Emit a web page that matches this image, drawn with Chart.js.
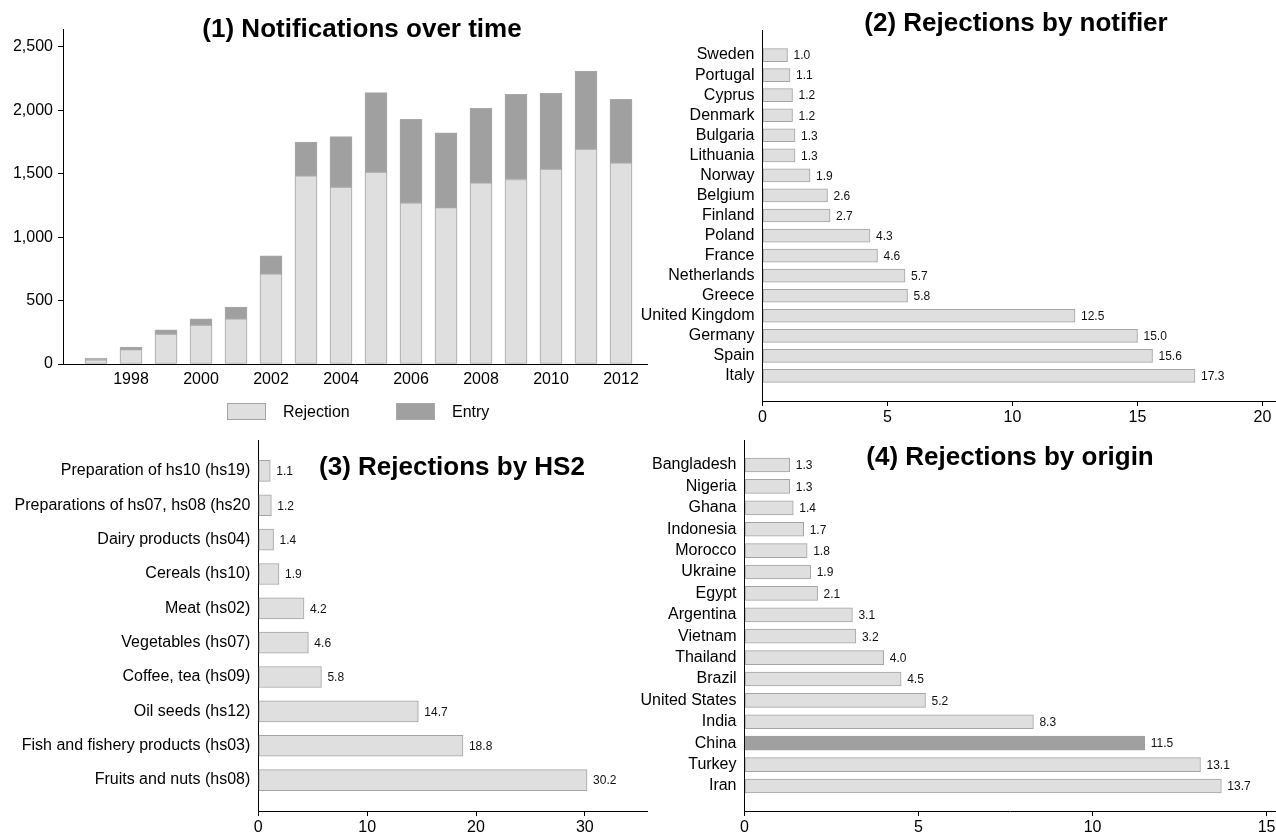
<!DOCTYPE html>
<html>
<head>
<meta charset="utf-8">
<title>Food import notifications</title>
<script src="https://cdn.jsdelivr.net/npm/chart.js@4.4.1/dist/chart.umd.min.js"></script>
<style>
  html, body { margin: 0; padding: 0; background: #fff; }
  #wrap { position: relative; width: 1276px; height: 833px; overflow: hidden; }
  canvas { position: absolute; }
</style>
</head>
<body>
<div id="wrap">
  <canvas id="c1" width="648" height="430" style="left:0;top:0"></canvas>
  <canvas id="c3" width="648" height="403" style="left:0;top:430px"></canvas>
  <canvas id="c2" width="636" height="430" style="left:640px;top:0"></canvas>
  <canvas id="c4" width="636" height="403" style="left:640px;top:430px"></canvas>
</div>
<script>
// (1) yearly notifications, split into rejections and entries
const years = [1997, 1998, 1999, 2000, 2001, 2002, 2003, 2004, 2005, 2006, 2007, 2008, 2009, 2010, 2011, 2012];
const rejections = [32, 113, 236, 307, 356, 710, 1483, 1394, 1512, 1271, 1232, 1428, 1454, 1536, 1693, 1585];
const entries = [15, 21, 34, 49, 92, 142, 265, 398, 626, 658, 589, 587, 671, 597, 616, 501];
const yearTicks = [1998, 2000, 2002, 2004, 2006, 2008, 2010, 2012];
const countTicks = [0, 500, 1000, 1500, 2000, 2500];

// (2) share of rejections by notifying country (%)
const notifierLabels = ['Sweden', 'Portugal', 'Cyprus', 'Denmark', 'Bulgaria', 'Lithuania', 'Norway', 'Belgium',
  'Finland', 'Poland', 'France', 'Netherlands', 'Greece', 'United Kingdom', 'Germany', 'Spain', 'Italy'];
const notifierShares = [1.0, 1.1, 1.2, 1.2, 1.3, 1.3, 1.9, 2.6, 2.7, 4.3, 4.6, 5.7, 5.8, 12.5, 15.0, 15.6, 17.3];

// (3) share of rejections by HS2 chapter (%)
const hsLabels = ['Preparation of hs10 (hs19)', 'Preparations of hs07, hs08 (hs20', 'Dairy products (hs04)',
  'Cereals (hs10)', 'Meat (hs02)', 'Vegetables (hs07)', 'Coffee, tea (hs09)', 'Oil seeds (hs12)',
  'Fish and fishery products (hs03)', 'Fruits and nuts (hs08)'];
const hsShares = [1.1, 1.2, 1.4, 1.9, 4.2, 4.6, 5.8, 14.7, 18.8, 30.2];

// (4) share of rejections by country of origin (%)
const originLabels = ['Bangladesh', 'Nigeria', 'Ghana', 'Indonesia', 'Morocco', 'Ukraine', 'Egypt', 'Argentina',
  'Vietnam', 'Thailand', 'Brazil', 'United States', 'India', 'China', 'Turkey', 'Iran'];
const originShares = [1.3, 1.3, 1.4, 1.7, 1.8, 1.9, 2.1, 3.1, 3.2, 4.0, 4.5, 5.2, 8.3, 11.5, 13.1, 13.7];
const highlightOrigin = 'China';

const FONT = "'Liberation Sans', Arial, Helvetica, sans-serif";
const LIGHT = '#dfdfdf';
const EDGE = '#a4a4a4';
const DARK = '#a0a0a0';

Chart.defaults.font.family = FONT;
Chart.defaults.font.size = 16;
Chart.defaults.color = '#000';

// Bold panel heading placed at a fixed spot on its canvas
const panelTitle = {
  id: 'panelTitle',
  afterDraw(chart, args, o) {
    const ctx = chart.ctx;
    ctx.save();
    ctx.font = 'bold 26px ' + FONT;
    ctx.fillStyle = '#000';
    ctx.textAlign = 'center';
    ctx.textBaseline = 'alphabetic';
    ctx.fillText(o.text, o.x, o.y);
    ctx.restore();
  }
};

// Value printed just past the end of each horizontal bar
const valueLabels = {
  id: 'valueLabels',
  afterDatasetsDraw(chart) {
    const ctx = chart.ctx;
    ctx.save();
    ctx.font = '12px ' + FONT;
    ctx.fillStyle = '#111';
    ctx.textAlign = 'left';
    ctx.textBaseline = 'middle';
    chart.data.datasets.forEach((ds, i) => {
      chart.getDatasetMeta(i).data.forEach((bar, j) => {
        ctx.fillText(ds.data[j].x.toFixed(1), bar.x + 6, bar.y + 1);
      });
    });
    ctx.restore();
  }
};

// Swatch legend under the time chart
const swatchLegend = {
  id: 'swatchLegend',
  afterDraw(chart, args, o) {
    const ctx = chart.ctx;
    ctx.save();
    chart.data.datasets.forEach((ds, i) => {
      const x = o.x[i];
      ctx.fillStyle = ds.backgroundColor;
      ctx.fillRect(x, o.y, o.w, o.h);
      ctx.strokeStyle = ds.borderColor;
      ctx.lineWidth = 1;
      ctx.strokeRect(x + 0.5, o.y + 0.5, o.w - 1, o.h - 1);
      ctx.fillStyle = '#000';
      ctx.font = '16px ' + FONT;
      ctx.textAlign = 'left';
      ctx.textBaseline = 'middle';
      ctx.fillText(ds.label, x + o.w + 17, o.y + o.h / 2 + 1);
    });
    ctx.restore();
  }
};

const noPad = s => { s.paddingTop = 0; s.paddingBottom = 0; s.paddingLeft = 0; s.paddingRight = 0; };

// (1) Notifications over time
new Chart(document.getElementById('c1'), {
  type: 'bar',
  data: {
    datasets: [
      { label: 'Rejection', data: years.map((y, i) => ({ x: y, y: rejections[i] })),
        backgroundColor: LIGHT, borderColor: EDGE, borderWidth: 1, borderSkipped: false, barThickness: 22 },
      { label: 'Entry', data: years.map((y, i) => ({ x: y, y: entries[i] })),
        backgroundColor: DARK, borderColor: '#a8a8a8', borderWidth: 1, borderSkipped: false, barThickness: 22 }
    ]
  },
  options: {
    responsive: false, animation: false, devicePixelRatio: 1,
    layout: { padding: { top: 29, right: 1, bottom: 36, left: 0 } },
    plugins: {
      legend: { display: false }, tooltip: { enabled: false },
      panelTitle: { text: '(1) Notifications over time', x: 362, y: 37 },
      swatchLegend: { x: [227, 396], y: 403, w: 39, h: 17 }
    },
    scales: {
      x: {
        type: 'linear', stacked: true, offset: false, min: 1996.057, max: 2012.743,
        afterFit: s => { s.height = 30; noPad(s); },
        afterBuildTicks: s => { s.ticks = yearTicks.map(v => ({ value: v })); },
        ticks: { callback: v => String(v), padding: 6, autoSkip: false, maxRotation: 0 },
        grid: { drawOnChartArea: false, drawTicks: false, offset: false },
        border: { color: '#000', width: 1 }
      },
      y: {
        stacked: true, min: 0, max: 2640,
        afterFit: s => { s.width = 63; noPad(s); },
        afterBuildTicks: s => { s.ticks = countTicks.map(v => ({ value: v })); },
        ticks: { padding: 5, callback: v => v.toLocaleString('en-US') },
        grid: { drawOnChartArea: false, tickLength: 5, color: '#000' },
        border: { color: '#000', width: 1 }
      }
    }
  },
  plugins: [panelTitle, swatchLegend]
});

// Horizontal share charts for panels 2-4
function shareChart(id, labels, shares, cfg) {
  return new Chart(document.getElementById(id), {
    type: 'bar',
    data: {
      datasets: [{
        data: shares.map((v, i) => ({ x: v, y: i })),
        backgroundColor: cfg.colors || LIGHT,
        borderColor: cfg.edges || EDGE,
        borderWidth: 1, borderSkipped: false, barThickness: cfg.bar
      }]
    },
    options: {
      indexAxis: 'y', responsive: false, animation: false, devicePixelRatio: 1,
      layout: { padding: { top: cfg.top, right: 0, bottom: 0, left: 0 } },
      plugins: { legend: { display: false }, tooltip: { enabled: false }, panelTitle: cfg.title },
      scales: {
        y: {
          type: 'linear', reverse: true, offset: false, min: -cfg.pad, max: labels.length - 1 + cfg.pad,
          afterFit: s => { s.width = cfg.left; noPad(s); },
          afterBuildTicks: s => { s.ticks = labels.map((_, i) => ({ value: i })); },
          ticks: { autoSkip: false, padding: 8, callback: v => labels[v] },
          grid: { drawOnChartArea: false, drawTicks: false, offset: false },
          border: { color: '#000', width: 1 }
        },
        x: {
          type: 'linear', min: 0, max: cfg.max,
          afterFit: s => { s.height = cfg.axisH; noPad(s); },
          afterBuildTicks: s => { s.ticks = cfg.ticks.map(v => ({ value: v })); },
          ticks: { padding: 2, autoSkip: false, maxRotation: 0 },
          grid: { drawOnChartArea: false, tickLength: 5, color: '#000' },
          border: { color: '#000', width: 1 }
        }
      }
    },
    plugins: [panelTitle, valueLabels]
  });
}

// (2) Rejections by notifier
shareChart('c2', notifierLabels, notifierShares, {
  bar: 13, top: 30, left: 122.5, pad: 1.25, max: 20.54, axisH: 29, ticks: [0, 5, 10, 15, 20],
  title: { text: '(2) Rejections by notifier', x: 376, y: 31 }
});

// (3) Rejections by HS2
shareChart('c3', hsLabels, hsShares, {
  bar: 21, top: 10, left: 258.3, pad: 0.9, max: 35.8, axisH: 22, ticks: [0, 10, 20, 30],
  title: { text: '(3) Rejections by HS2', x: 452, y: 45 }
});

// (4) Rejections by origin, China shaded darker
shareChart('c4', originLabels, originShares, {
  bar: 14, top: 10, left: 104.5, pad: 1.17, max: 15.27, axisH: 22, ticks: [0, 5, 10, 15],
  colors: originLabels.map(l => l === highlightOrigin ? DARK : LIGHT),
  edges: originLabels.map(l => l === highlightOrigin ? DARK : EDGE),
  title: { text: '(4) Rejections by origin', x: 370, y: 35 }
});
</script>
</body>
</html>
